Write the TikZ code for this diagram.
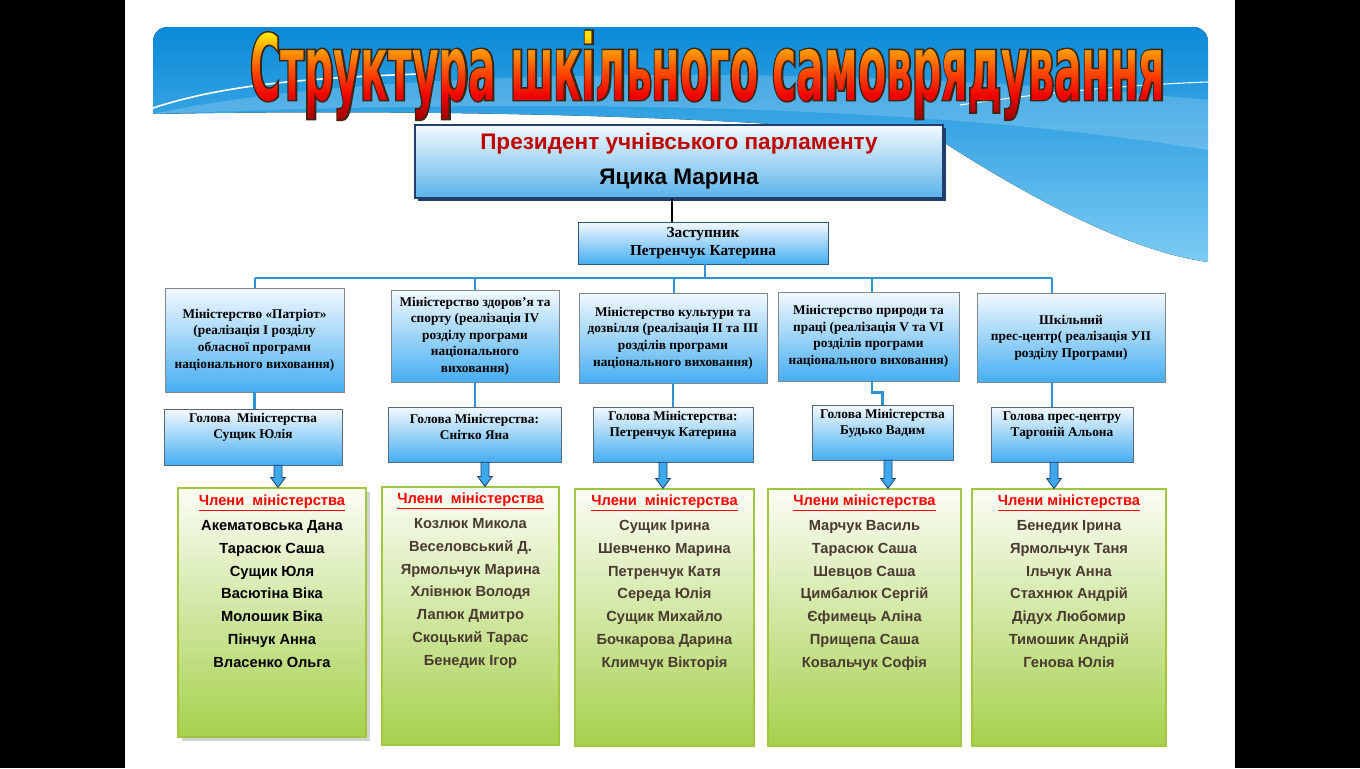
\documentclass[tikz,border=0pt]{standalone}
\usepackage{fontspec}
\usepackage{graphicx}
\setmainfont{Liberation Serif}
\newfontfamily\arialfont{Liberation Sans}
\newfontface\titlefill{DejaVu Sans Bold}[FakeStretch=0.43]
\newfontface\titleedge{DejaVu Sans Bold}[FakeStretch=0.43,FakeBold=3]
\usetikzlibrary{calc,positioning,shadows,fadings}

\definecolor{linkblue}{HTML}{2F93D3}
\definecolor{boxtop}{HTML}{F3F9FE}
\definecolor{boxbot}{HTML}{46AEF1}
\definecolor{boxline}{HTML}{7F868E}
\definecolor{headline}{HTML}{56687A}
\definecolor{depline}{HTML}{30577E}
\definecolor{greentop}{HTML}{FBFDF6}
\definecolor{greenbot}{HTML}{A6D04D}
\definecolor{greenline}{HTML}{A2C73F}
\definecolor{namebrown}{HTML}{4A3A30}
\definecolor{presred}{HTML}{C00000}
\definecolor{presnavy}{HTML}{203F6C}
\definecolor{presbot}{HTML}{5AB3EA}
\definecolor{arrowblue}{HTML}{3EA8EC}
\definecolor{banner1}{HTML}{0A8AD8}
\definecolor{banner2}{HTML}{7CCBF4}
\definecolor{titleline}{HTML}{3B2614}
\definecolor{tyellow}{HTML}{FFE000}
\definecolor{torange}{HTML}{FF9A00}
\definecolor{tred1}{HTML}{FF4A00}
\definecolor{tred2}{HTML}{EE0000}
\definecolor{tred3}{HTML}{9A0000}

\newcommand\titlebox[1]{\resizebox{686pt}{52pt}{#1\fontsize{10}{12}\selectfont
  Структура шкільного самоврядування}}

\pgfdeclareverticalshading{titleshade}{100bp}{color(0bp)=(tred3);
  color(25bp)=(tred3); color(38bp)=(tred2); color(52bp)=(tred1);
  color(64bp)=(torange); color(72bp)=(tyellow); color(100bp)=(tyellow)}

\begin{tikzfadingfrompicture}[name=titlefade]
  \node[inner sep=0pt,text=transparent!0] (fadetext) at (0,0) {\titlebox{\titlefill}};
\end{tikzfadingfrompicture}

\begin{document}
\begin{tikzpicture}[
  x=0.75pt,y=-0.75pt,
  link/.style={draw=linkblue,line width=2pt},
  bluebox/.style={draw=boxline,top color=boxtop,bottom color=boxbot,
    inner sep=2pt,align=center},
  greenbox/.style={draw=greenline,line width=0.8pt,top color=greentop,
    bottom color=greenbot},
  mintext/.style={font=\bfseries\fontsize{10}{12.4}\selectfont},
  headtext/.style={align=center,inner sep=0pt,
    font=\bfseries\fontsize{10}{12}\selectfont},
  memtext/.style={anchor=north,align=center,inner sep=2pt,text=namebrown,
    font=\arialfont\bfseries\fontsize{11}{17.1}\selectfont},
  blockarr/.style={draw=presnavy,line width=0.6pt,fill=arrowblue,
    to path={let \p1=(\tikztostart),\p2=(\tikztotarget) in
      (\x1-3pt,\y1) -- (\x1+3pt,\y1) -- (\x1+3pt,\y2+7.5pt)
      -- (\x1+5.5pt,\y2+7.5pt) -- (\x1,\y2) -- (\x1-5.5pt,\y2+7.5pt)
      -- (\x1-3pt,\y2+7.5pt) -- cycle}}
]
  \useasboundingbox (0,0) rectangle (1360,768);
  \fill[black] (0,0) rectangle (1360,768);
  \fill[white] (125,0) rectangle (1235,768);

  % banner
  \begin{scope}
    \clip[rounded corners=11pt] (153,27) rectangle (1208,320);
    \fill[top color=banner1,bottom color=banner2] (153,27) -- (1208,27)
      -- (1208,262) .. controls (1120,250) and (1010,185) .. (940,140)
      .. controls (800,118) and (450,108) .. (153,114) -- cycle;
    \fill[white,opacity=0.18] (153,114) .. controls (350,70) and (800,60)
      .. (1208,100) -- (1208,150) .. controls (900,100) and (500,100)
      .. (153,114) -- cycle;
    \draw[white,line width=1.2pt] (153,108) .. controls (220,86) and (300,78)
      .. (420,74);
    \draw[white,line width=0.8pt] (960,105) .. controls (1060,90) and (1150,84)
      .. (1208,82);
  \end{scope}

  % title
  \node[anchor=base west,inner sep=0pt,text=titleline] (title) at (250,100)
    {\titlebox{\titleedge}};
  \shade[shading=titleshade,path fading=titlefade,fit fading=false,
    fading transform={shift={(title.center)}}]
    (title.south west) rectangle (title.north east);

  % president and deputy
  \node[draw=presnavy,line width=1pt,top color=boxtop,middle color=white,
    bottom color=presbot,minimum width=396pt,minimum height=54.75pt,
    general shadow={fill=presnavy,shadow xshift=2.2pt,shadow yshift=-2.2pt},
    align=center,font=\arialfont\bfseries\fontsize{16.9}{26.25}\selectfont]
    (pres) at (679,161.5)
    {\textcolor{presred}{Президент учнівського парламенту}\\Яцика Марина};
  \node[bluebox,draw=depline,minimum width=187.5pt,minimum height=31.5pt,
    font=\bfseries\fontsize{11.5}{13}\selectfont]
    (dep) at (703,243) {Заступник\\Петренчук Катерина};
  \coordinate (pd) at (672,0);
  \draw[black,line width=0.8pt] (pres.south -| pd) -- (dep.north -| pd);

  % ministries
  \node[bluebox,mintext,minimum width=134.25pt,minimum height=78pt]
    (m1) at (254.5,340) {Міністерство «Патріот»\\(реалізація I розділу\\обласної
    програми\\національного виховання)};
  \node[bluebox,mintext,minimum width=126pt,minimum height=69pt]
    (m2) at (475,336) {Міністерство здоров’я та\\спорту (реалізація IV\\розділу
    програми\\національного\\виховання)};
  \node[bluebox,mintext,minimum width=141pt,minimum height=67.5pt]
    (m3) at (673,338) {Міністерство культури та\\дозвілля (реалізація II та III\\розділів
    програми\\національного виховання)};
  \node[bluebox,mintext,minimum width=135.75pt,minimum height=66.75pt]
    (m4) at (868.5,336.5) {Міністерство природи та\\праці (реалізація V та VI\\розділів
    програми\\національного виховання)};
  \node[bluebox,mintext,minimum width=141pt,minimum height=66.75pt]
    (m5) at (1071,337.5) {Шкільний\\прес-центр( реалізація УІІ\\розділу Програми)};

  \coordinate (bus) at (705,278);
  \foreach \i/\xx in {1/255,2/475,3/674,4/872,5/1052}
    \coordinate (d\i) at (\xx,278);
  \draw[link] (dep.south -| bus) -- (bus);
  \draw[link] (d1) -- (d5);
  \foreach \i in {1,...,5}
    \draw[link] (d\i) -- (m\i.north -| d\i);

  % heads
  \node[bluebox,draw=headline,minimum width=133.5pt,minimum height=42pt]
    (h1) at (253,437) {};
  \node[bluebox,draw=headline,minimum width=129.75pt,minimum height=41.25pt]
    (h2) at (474.5,434.5) {};
  \node[bluebox,draw=headline,minimum width=120pt,minimum height=41.25pt]
    (h3) at (673,434.5) {};
  \node[bluebox,draw=headline,minimum width=105.75pt,minimum height=41.25pt]
    (h4) at (882.5,432.5) {};
  \node[bluebox,draw=headline,minimum width=106.5pt,minimum height=41.25pt]
    (h5) at (1062,434.5) {};
  \node[headtext] (t1) at ($(h1.north)+(0,19)$) {Голова~ Міністерства\\Сущик Юлія};
  \node[headtext] (t2) at ($(h2.north)+(0,20)$) {Голова Міністерства:\\Снітко Яна};
  \node[headtext] (t3) at ($(h3.north)+(0,19)$) {Голова Міністерства:\\Петренчук Катерина};
  \node[headtext] (t4) at ($(h4.north)+(0,19)$) {Голова Міністерства\\Будько Вадим};
  \node[headtext] (t5) at ($(h5.north)+(0,19)$) {Голова прес-центру\\Таргоній Альона};

  \draw[link] (m1.south) -- (h1.north -| m1.south);
  \draw[link] (m2.south) -- (h2.north -| m2.south);
  \draw[link] (m3.south) -- (h3.north -| m3.south);
  \draw[link] (m4.south -| d4) |- ($(h4.north)+(0,-12)$) -- (h4.north);
  \draw[link] (m5.south -| d5) -- (h5.north -| d5);

  % members
  \node[greenbox,minimum width=141pt,minimum height=186.75pt,
    drop shadow={opacity=0.35,shadow xshift=3pt,shadow yshift=-3pt}]
    (g1) at (272,612.5) {};
  \node[greenbox,minimum width=132.75pt,minimum height=193.5pt] (g2) at (470.5,616) {};
  \node[greenbox,minimum width=134.25pt,minimum height=192.75pt] (g3) at (664.5,617.5) {};
  \node[greenbox,minimum width=144.75pt,minimum height=192.75pt] (g4) at (864.5,617.5) {};
  \node[greenbox,minimum width=145.5pt,minimum height=192.75pt] (g5) at (1069,617.5) {};

  \node[memtext,text=black] (l1) at ($(g1.north)+(0,4)$)
    {\textcolor{red}{\underline{Члени~ міністерства}}\\[2pt]Акематовська Дана\\Тарасюк
    Саша\\Сущик Юля\\Васютіна Віка\\Молошик Віка\\Пінчук Анна\\Власенко Ольга};
  \node[memtext] (l2) at ($(g2.north)+(0,3)$)
    {\textcolor{red}{\underline{Члени~ міністерства}}\\[2pt]Козлюк Микола\\Веселовський
    Д.\\Ярмольчук Марина\\Хлівнюк Володя\\Лапюк Дмитро\\Скоцький Тарас\\Бенедик Ігор};
  \node[memtext] (l3) at ($(g3.north)+(0,3)$)
    {\textcolor{red}{\underline{Члени~ міністерства}}\\[2pt]Сущик Ірина\\Шевченко
    Марина\\Петренчук Катя\\Середа Юлія\\Сущик Михайло\\Бочкарова Дарина\\Климчук Вікторія};
  \node[memtext] (l4) at ($(g4.north)+(0,3)$)
    {\textcolor{red}{\underline{Члени міністерства}}\\[2pt]Марчук Василь\\Тарасюк
    Саша\\Шевцов Саша\\Цимбалюк Сергій\\Єфимець Аліна\\Прищепа Саша\\Ковальчук Софія};
  \node[memtext] (l5) at ($(g5.north)+(0,3)$)
    {\textcolor{red}{\underline{Члени міністерства}}\\[2pt]Бенедик Ірина\\Ярмольчук
    Таня\\Ільчук Анна\\Стахнюк Андрій\\Дідух Любомир\\Тимошик Андрій\\Генова Юлія};

  \foreach \i/\xx in {1/278,2/485,3/663,4/888,5/1054} {
    \coordinate (a\i) at (\xx,0);
    \draw[blockarr] (h\i.south -| a\i) to (g\i.north -| a\i);
  }
\end{tikzpicture}
\end{document}
